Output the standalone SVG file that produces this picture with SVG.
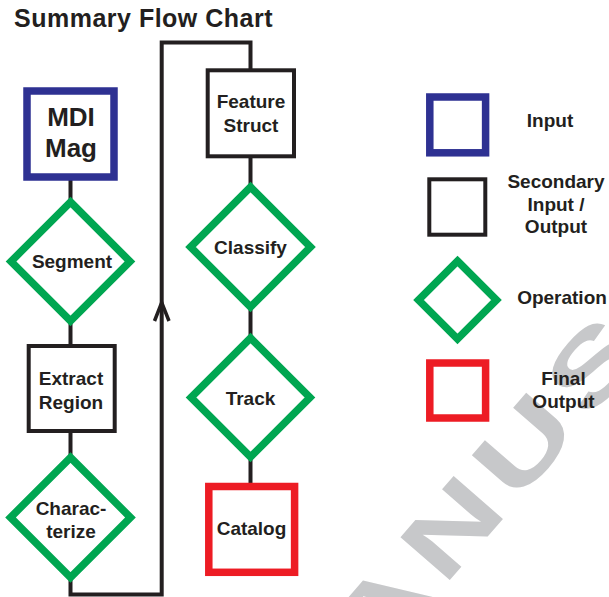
<svg xmlns="http://www.w3.org/2000/svg" width="609" height="597" viewBox="0 0 609 597">
  <style>
    .t { font-family: "Liberation Sans", Arial, Helvetica, sans-serif; font-weight: bold; fill: #231F20; text-anchor: middle; }
    .n { font-size: 19px; }
    .big { font-size: 26px; }
    .title { font-size: 25px; text-anchor: start; letter-spacing: 0.5px; }
    .wm { font-family: "Liberation Sans", Arial, sans-serif; font-weight: bold; font-size: 95px; letter-spacing: 7px; fill: #C7C8CA; }
    .in { fill: #fff; stroke: #2E3192; stroke-width: 7.5; }
    .sec { fill: #fff; stroke: #231F20; stroke-width: 4; }
    .op { fill: #fff; stroke: #00A651; stroke-width: 7.5; stroke-linejoin: miter; }
    .fin { fill: #fff; stroke: #ED1C24; stroke-width: 7.5; }
    .c { fill: none; stroke: #231F20; stroke-width: 4; }
  </style>
  <rect width="609" height="597" fill="#fff"/>

  <!-- watermark -->
  <g id="watermark">
    <text class="wm" transform="translate(443.8,587.1) rotate(-49) scale(1.45,1)" x="-773.6" y="0">ACCEPTED MANUSCRIPT</text>
  </g>

  <text class="t title" x="14" y="27">Summary Flow Chart</text>

  <!-- connectors -->
  <g id="connectors">
    <line class="c" x1="70.5" y1="177" x2="70.5" y2="205"/>
    <line class="c" x1="70.5" y1="318" x2="70.5" y2="348"/>
    <line class="c" x1="70.5" y1="430" x2="70.5" y2="460"/>
    <path class="c" d="M70.5,575 V594.5 H161.7 V42.5 H250.5 V72"/>
    <polyline points="154.5,321 161.7,302.5 169,321" fill="none" stroke="#231F20" stroke-width="3.5" stroke-linejoin="miter"/>
    <line class="c" x1="250.5" y1="154" x2="250.5" y2="190"/>
    <line class="c" x1="250.5" y1="304" x2="250.5" y2="340"/>
    <line class="c" x1="250.5" y1="455" x2="250.5" y2="490"/>
  </g>

  <!-- nodes -->
  <g id="mdi-mag">
    <rect class="in" x="27" y="91" width="87" height="86"/>
    <text class="t big" x="71" y="126">MDI</text>
    <text class="t big" x="71" y="157">Mag</text>
  </g>
  <g id="segment">
    <path class="op" d="M70.5,202 L130,261.5 L70.5,321 L11,261.5 Z"/>
    <text class="t n" x="72" y="268">Segment</text>
  </g>
  <g id="extract-region">
    <rect class="sec" x="28.7" y="346" width="86" height="85"/>
    <text class="t n" x="71" y="385">Extract</text>
    <text class="t n" x="71" y="408.5">Region</text>
  </g>
  <g id="characterize">
    <path class="op" d="M70.5,457.5 L130.5,517.5 L70.5,577.5 L10.5,517.5 Z"/>
    <text class="t n" x="71" y="515">Charac-</text>
    <text class="t n" x="71" y="538.3">terize</text>
  </g>
  <g id="feature-struct">
    <rect class="sec" x="207.7" y="70.3" width="86.3" height="86"/>
    <text class="t n" x="251" y="108.3">Feature</text>
    <text class="t n" x="251" y="131.7">Struct</text>
  </g>
  <g id="classify">
    <path class="op" d="M250.5,187 L310.5,247 L250.5,307 L190.5,247 Z"/>
    <text class="t n" x="250.5" y="254">Classify</text>
  </g>
  <g id="track">
    <path class="op" d="M250.5,338 L310,397.5 L250.5,457 L191,397.5 Z"/>
    <text class="t n" x="250.5" y="404.5">Track</text>
  </g>
  <g id="catalog">
    <rect class="fin" x="208.8" y="486.5" width="85.8" height="85.8"/>
    <text class="t n" x="251.5" y="535">Catalog</text>
  </g>

  <!-- legend -->
  <g id="legend-input">
    <rect class="in" x="429.8" y="97" width="55.8" height="55.8"/>
    <text class="t n" x="550" y="127">Input</text>
  </g>
  <g id="legend-secondary">
    <rect class="sec" x="429.3" y="179.3" width="56" height="55.4"/>
    <text class="t n" x="556" y="188">Secondary</text>
    <text class="t n" x="556" y="210.5">Input /</text>
    <text class="t n" x="556" y="233">Output</text>
  </g>
  <g id="legend-operation">
    <path class="op" d="M457.5,261 L496.5,300 L457.5,339 L418.5,300 Z"/>
    <text class="t n" x="562" y="304">Operation</text>
  </g>
  <g id="legend-final">
    <rect class="fin" x="429.8" y="363" width="55.8" height="55"/>
    <text class="t n" x="563.5" y="385">Final</text>
    <text class="t n" x="563.5" y="408">Output</text>
  </g>
</svg>
